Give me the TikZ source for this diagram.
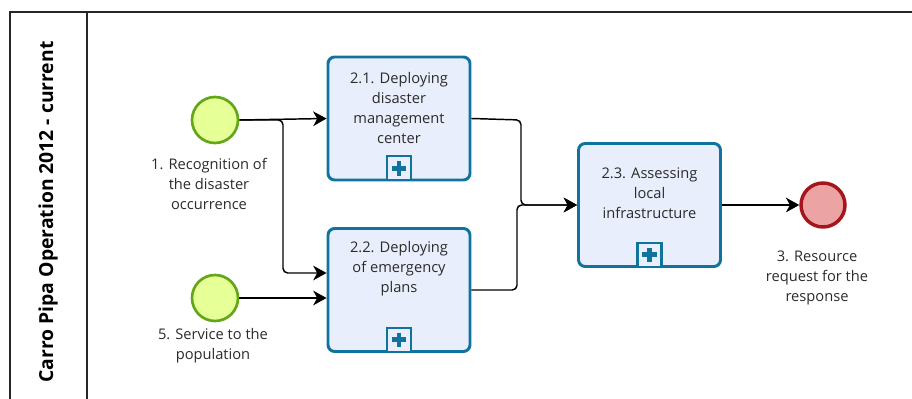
\documentclass[tikz,border=0pt]{standalone}
\usepackage{fontspec}
\setmainfont{Open Sans}
\usetikzlibrary{arrows.meta}
\definecolor{startfill}{HTML}{E6FF97}
\definecolor{startline}{HTML}{62A716}
\definecolor{endfill}{HTML}{ECA3A3}
\definecolor{endline}{HTML}{A5161C}
\definecolor{taskfill}{HTML}{E9EEFD}
\definecolor{taskline}{HTML}{10739E}
\definecolor{labeltext}{HTML}{2B2B2B}
\tikzset{
  startev/.style={circle, draw=startline, fill=startfill, line width=2pt, minimum size=34.5pt, inner sep=0pt},
  endev/.style={circle, draw=endline, fill=endfill, line width=2.6pt, minimum size=33pt, inner sep=0pt},
  taskbox/.style={rectangle, rounded corners=5pt, draw=taskline, fill=taskfill, line width=2.2pt,
                  minimum width=106.5pt, minimum height=92.25pt, inner sep=0pt},
  tasktext/.style={align=center, font=\fontsize{11}{15}\selectfont, text=labeltext, inner sep=0pt},
  evtext/.style={align=center, font=\fontsize{11}{15}\selectfont, text=labeltext, inner sep=0pt},
  flow/.style={draw=black, line width=1.1pt, rounded corners=3.5pt, -{Stealth[length=10pt,width=11pt,inset=3pt]}},
  poolline/.style={draw=black!85, line width=1.1pt},
  marker/.style={rectangle, draw=taskline, fill=taskfill, line width=1.7pt, minimum size=18pt, inner sep=0pt}
}
\newcommand{\subplus}[1]{%
  \node[marker, anchor=south] (#1-m) at (#1.south) {};
  \fill[taskline] ([xshift=-5.5pt,yshift=-1.8pt]#1-m.center) rectangle ([xshift=5.5pt,yshift=1.8pt]#1-m.center);
  \fill[taskline] ([xshift=-1.8pt,yshift=-5.5pt]#1-m.center) rectangle ([xshift=1.8pt,yshift=5.5pt]#1-m.center);
}
\begin{document}
\begin{tikzpicture}[x=0.75pt, y=-0.75pt]
  \useasboundingbox (0,0) rectangle (912,399);

  % pool frame and lane header
  \draw[poolline] (912,12) -- (10,12) -- (10,405);
  \draw[poolline] (87,12) -- (87,405);
  \node[rotate=90, font=\bfseries\fontsize{14.5}{17}\selectfont] (title) at (48,212) {Carro Pipa Operation 2012 - current};

  % events
  \node[startev] (e1) at (215,120) {};
  \node[startev] (e5) at (215,298) {};
  \node[endev] (e3) at (823,205) {};
  \node[evtext] (l1) at (209,184) {1. Recognition of\\the disaster\\occurrence};
  \node[evtext] (l5) at (213,346) {5. Service to the\\population};
  \node[evtext] (l3) at (817,278) {3. Resource\\request for the\\response};

  % collapsed sub-processes
  \node[taskbox] (t21) at (399,118.5) {};
  \node[taskbox] (t22) at (399,290) {};
  \node[taskbox] (t23) at (649.5,205) {};
  \node[tasktext] (x21) at (399,108) {2.1. Deploying\\disaster\\management\\center};
  \node[tasktext] (x22) at (399,269) {2.2. Deploying\\of emergency\\plans};
  \node[tasktext] (x23) at (649.5,193) {2.3. Assessing\\local\\infrastructure};
  \subplus{t21}
  \subplus{t22}
  \subplus{t23}

  % sequence flows
  \coordinate (s1) at (283,120);
  \coordinate (s2) at (283,273);
  \coordinate (j1) at (521,120);
  \coordinate (j2) at (517,290);
  \coordinate (jm) at (519,205);
  \draw[flow] (e1.east) -- (t21.west);
  \draw[flow] (e1.east) -- (s1) -- (s2) -- (t22.west |- s2);
  \draw[flow] (e5.east) -- (t22.west |- e5);
  \draw[flow] (t21.east) -- (j1) -- (j1 |- jm) -- (t23.west);
  \draw[flow] (t22.east) -- (j2) -- (j2 |- jm) -- (t23.west);
  \draw[flow] (t23.east) -- (e3.west);
\end{tikzpicture}
\end{document}
